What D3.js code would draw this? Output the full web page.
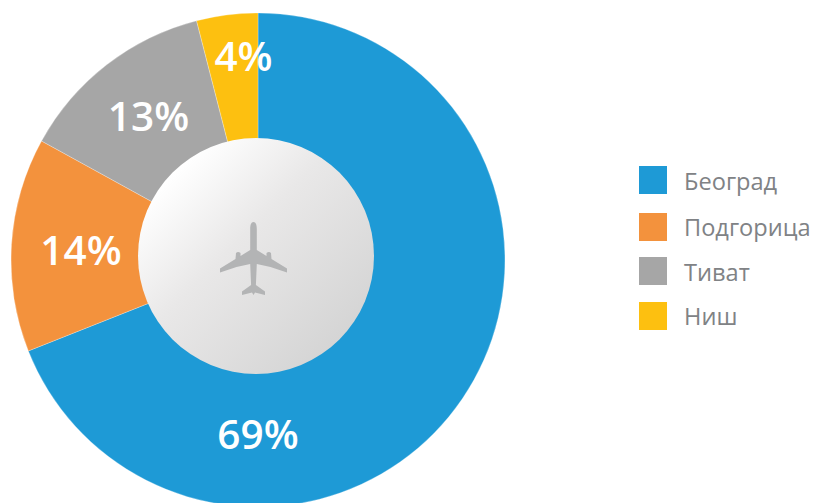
<!DOCTYPE html>
<html>
<head>
<meta charset="utf-8">
<script src="https://cdn.jsdelivr.net/npm/d3@7/dist/d3.min.js"></script>
<style>
html,body{margin:0;padding:0;background:#fff;overflow:hidden}
svg{display:block}
text{font-family:"Open Sans",sans-serif}
</style>
</head>
<body>
<svg id="chart" width="815" height="503"></svg>
<script>
const cities = ["Београд", "Подгорица", "Тиват", "Ниш"];
const shares = [69, 14, 13, 4];
const colors = ["#1e9ad6", "#f3923d", "#a6a6a6", "#fdc010"];
const labelSuffix = "%";

const svg = d3.select("#chart");
const cx = 258, cy = 260, outerR = 247, hubR = 118;

const defs = svg.append("defs");
const grad = defs.append("linearGradient").attr("id", "hub")
  .attr("x1", "0.15").attr("y1", "0.15").attr("x2", "0.85").attr("y2", "0.85");
grad.append("stop").attr("offset", "0").attr("stop-color", "#ffffff");
grad.append("stop").attr("offset", "0.4").attr("stop-color", "#e9e8e8");
grad.append("stop").attr("offset", "1").attr("stop-color", "#d5d5d5");

const pie = d3.pie().sort(null).value(d => d);
const arcs = pie(shares);
const arc = d3.arc().innerRadius(0).outerRadius(outerR);

const g = svg.append("g").attr("transform", `translate(${cx},${cy})`);
g.selectAll("path.slice").data(arcs).join("path")
  .attr("class", "slice")
  .attr("d", arc)
  .attr("fill", (d, i) => colors[i])
  .attr("stroke", "#ffffff")
  .attr("stroke-opacity", 0.45)
  .attr("stroke-width", 0.6);

// Central disc with the aircraft emblem
svg.append("circle").attr("cx", 256).attr("cy", 256).attr("r", hubR).attr("fill", "url(#hub)");
svg.append("path")
  .attr("transform", "translate(253.5,258)")
  .attr("fill", "#b3b4b5")
  .attr("d", "M0,-36 C2.4,-36 3.3,-33 3.3,-29 L3.3,-8 L13,-2 L13,-5 Q15.5,-7 17.5,-5 L18,1 L33.5,10.5 L33.5,14.5 L17,9 L3.3,6 L2.4,27 L11.5,33.5 L11.5,37 L1.5,34.5 L0,37 L-1.5,34.5 L-11.5,37 L-11.5,33.5 L-2.4,27 L-3.3,6 L-17,9 L-33.5,14.5 L-33.5,10.5 L-18,1 L-17.5,-5 Q-15.5,-7 -13,-5 L-13,-2 L-3.3,-8 L-3.3,-29 C-3.3,-33 -2.4,-36 0,-36 Z");

// Percentage labels, one per slice
const labelPos = [[258, 434], [81, 250], [148.5, 116], [243.5, 56]];
svg.selectAll("text.pct").data(arcs).join("text")
  .attr("class", "pct")
  .attr("x", (d, i) => labelPos[i][0])
  .attr("y", (d, i) => labelPos[i][1])
  .attr("dy", "0.36em")
  .attr("text-anchor", "middle")
  .attr("fill", "#ffffff")
  .attr("font-size", 40.5)
  .attr("font-weight", 600)
  .text(d => d.value + labelSuffix);

// Legend rows
const swatchMid = [180, 227, 271, 316];
const textBase = [190, 236, 281, 325];
const legend = svg.selectAll("g.key").data(cities).join("g").attr("class", "key");
legend.append("rect").attr("x", 639).attr("y", (d, i) => swatchMid[i] - 14)
  .attr("width", 28).attr("height", 28)
  .attr("fill", (d, i) => colors[i]);
legend.append("text").attr("x", 684).attr("y", (d, i) => textBase[i])
  .attr("font-size", 23.6).attr("fill", "#808285").text(d => d);
</script>
</body>
</html>
